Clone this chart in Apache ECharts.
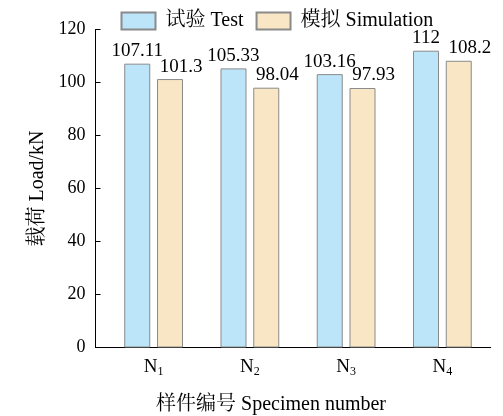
<!DOCTYPE html>
<html>
<head>
<meta charset="utf-8">
<script src="https://cdn.jsdelivr.net/npm/echarts@6/dist/echarts.min.js"></script>
<style>
html,body{margin:0;padding:0;background:#fff;}
#c{width:503px;height:416px;}
</style>
</head>
<body>
<div id="c"></div>
<script>
const categories = ['N1', 'N2', 'N3', 'N4'];
const seriesNames = ['试验 Test', '模拟 Simulation'];
const testValues = [107.11, 105.33, 103.16, 112];
const simValues = [101.3, 98.04, 97.93, 108.2];
const yMin = 0, yMax = 120, yStep = 20;
const xAxisTitle = '样件编号 Specimen number';
const yAxisTitle = '载荷 Load/kN';

const FONT = "'Liberation Serif', 'Times New Roman', 'Noto Serif CJK SC', 'Noto Sans CJK SC', serif";
const chart = echarts.init(document.getElementById('c'), null, {renderer: 'canvas'});

const gridTop = 29.5, gridBottom = 68.5;

chart.setOption({
  animation: false,
  backgroundColor: '#fff',
  textStyle: {fontFamily: FONT, color: '#000'},
  legend: {
    data: seriesNames,
    left: 120.5,
    top: 11,
    padding: 0,
    itemWidth: 34,
    itemHeight: 17,
    itemGap: 12,
    icon: 'rect',
    textStyle: {fontFamily: FONT, fontSize: 20, color: '#000', padding: [0, 0, 0, 5]}
  },
  grid: [
    {left: 105.5, right: 12.5, top: gridTop, bottom: gridBottom, containLabel: false, outerBoundsMode: 'none'},
    {left: 95.5, right: 12.3, top: gridTop, bottom: gridBottom, containLabel: false, outerBoundsMode: 'none'}
  ],
  xAxis: [
    {
      type: 'category',
      gridIndex: 0,
      data: categories,
      axisLine: {show: false},
      axisTick: {show: false},
      axisLabel: {
        margin: 9,
        formatter: function (v) {
          return '{n|' + v.slice(0, 1) + '}{s|' + v.slice(1) + '}';
        },
        rich: {
          n: {fontFamily: FONT, fontSize: 19, color: '#000'},
          s: {fontFamily: FONT, fontSize: 12, color: '#000', padding: [9, 0, 0, 0]}
        }
      },
      name: xAxisTitle,
      nameLocation: 'middle',
      nameGap: 47,
      nameTextStyle: {fontFamily: FONT, fontSize: 20, color: '#000', padding: [0, 54, 0, 0]}
    },
    {
      type: 'value',
      gridIndex: 1,
      min: 0, max: 1,
      position: 'bottom',
      axisLine: {show: true, onZero: false, lineStyle: {color: '#000', width: 1}},
      axisTick: {show: false},
      axisLabel: {show: false},
      splitLine: {show: false}
    }
  ],
  yAxis: [
    {
      type: 'value',
      gridIndex: 0,
      min: yMin, max: yMax, interval: yStep,
      show: false
    },
    {
      type: 'value',
      gridIndex: 1,
      min: yMin, max: yMax, interval: yStep,
      position: 'left',
      axisLine: {show: true, onZero: false, lineStyle: {color: '#000', width: 1}},
      axisTick: {show: true, inside: true, length: 5, lineStyle: {color: '#000', width: 1}},
      axisLabel: {margin: 10, fontFamily: FONT, fontSize: 18, color: '#000'},
      splitLine: {show: false},
      name: yAxisTitle,
      nameLocation: 'middle',
      nameGap: 46,
      nameTextStyle: {fontFamily: FONT, fontSize: 20, color: '#000'}
    }
  ],
  series: [
    {
      name: seriesNames[0],
      type: 'bar',
      xAxisIndex: 0, yAxisIndex: 0,
      data: testValues,
      barWidth: 26,
      barGap: '26%',
      itemStyle: {color: '#BDE5FA', borderColor: '#8a8a8a', borderWidth: 1},
      label: {show: true, position: 'top', distance: 3, fontFamily: FONT, fontSize: 19, color: '#000'}
    },
    {
      name: seriesNames[1],
      type: 'bar',
      xAxisIndex: 0, yAxisIndex: 0,
      data: simValues,
      barWidth: 26,
      barGap: '26%',
      itemStyle: {color: '#F8E6C4', borderColor: '#8a8a8a', borderWidth: 1},
      label: {show: true, position: 'top', distance: 3, offset: [11, 0], fontFamily: FONT, fontSize: 19, color: '#000'}
    }
  ]
});
</script>
</body>
</html>
